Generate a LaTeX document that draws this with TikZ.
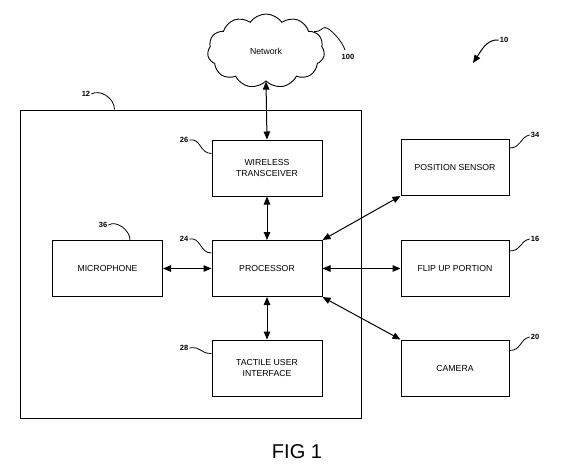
\documentclass[tikz,border=0pt]{standalone}
\usepackage{fontspec}
\setmainfont{Liberation Sans}
\usetikzlibrary{shapes.symbols,arrows.meta,calc}
\tikzset{
  blk/.style = {rectangle, draw=black, line width=1pt, align=center, inner sep=2pt,
    font=\fontsize{8.7}{10.5}\selectfont},
  box/.style = {blk, minimum width=110pt, minimum height=56pt},
  refno/.style = {inner sep=1pt, font=\fontsize{7.5}{9}\selectfont\bfseries},
  lead/.style = {line width=0.8pt},
  link/.style = {line width=1pt, {Triangle[length=8pt,width=6.5pt]}-{Triangle[length=8pt,width=6.5pt]}},
}

\begin{document}
\begin{tikzpicture}[x=1pt,y=-1pt]
\useasboundingbox (0,0) rectangle (562,472);
%device housing
\node [blk, minimum width=341pt, minimum height=308pt] (dev) at (190.5,264) {};
\node [cloud, draw, line width=0.9pt, cloud puffs=11, cloud puff arc=110, aspect=1.6,
  minimum width=117pt, minimum height=74pt, inner sep=0pt,
  font=\fontsize{8.7}{10}\selectfont] (net) at (266,51) {Network};
\node [box] (wt) at (267,168) {WIRELESS\\TRANSCEIVER};
\node [box] (proc) at (267,268.5) {PROCESSOR};
\node [box] (mic) at (107.5,268.5) {MICROPHONE};
\node [box] (tui) at (267,368) {TACTILE USER\\INTERFACE};
\node [box, minimum width=108pt] (pos) at (455,167.5) {POSITION SENSOR};
\node [box, minimum width=108pt] (flip) at (455,268.5) {FLIP UP PORTION};
\node [box, minimum width=108pt] (cam) at (455,368) {CAMERA};

\draw [link] (net.south) -- (wt.north);
\draw [link] (wt.south) -- (proc.north);
\draw [link] (proc.south) -- (tui.north);
\draw [link] (mic.east) -- (proc.west);
\draw [link] (proc.east) -- (flip.west);
\draw [link] (proc.north east) -- (pos.south west);
\draw [link] (proc.south east) -- (cam.north west);

%reference numerals
\node [refno] (l10) at (504,40) {10};
\coordinate (p10) at (473,63);
\draw [line width=1pt, -{Triangle[length=8pt,width=6.5pt]}] (l10.west) .. controls +(-12,-1) and +(8,-12) .. (p10);
\node [refno] (l100) at (348,57) {100};
\draw [lead] (net.22) .. controls +(8,0) and +(-4,0) .. ($(net.22)+(11,-4)$)
  .. controls +(5,0) and +(-2,-8) .. ($(l100.north)+(-3,-3)$);
\node [refno] (l12) at (86,94) {12};
\draw [lead] (l12.east) .. controls +(8,-5) and +(0,-12) .. ($(dev.north west)+(95,0)$);
\node [refno] (l36) at (103,225) {36};
\draw [lead] (l36.east) .. controls +(8,-5) and +(0,-10) .. ($(mic.north west)+(78,0)$);
\node [refno] (l26) at (184,140) {26};
\draw [lead] (l26.east) .. controls +(12,-2) and +(-12,0) .. ($(wt.north west)+(0,14)$);
\node [refno] (l24) at (184,239) {24};
\draw [lead] (l24.east) .. controls +(12,-2) and +(-12,0) .. ($(proc.north west)+(0,13)$);
\node [refno] (l28) at (184,348) {28};
\draw [lead] (l28.east) .. controls +(12,-2) and +(-12,0) .. ($(tui.north west)+(0,14)$);
\node [refno] (l34) at (535,135) {34};
\draw [lead] ($(pos.north east)+(0,9)$) .. controls +(12,0) and +(-10,2) .. (l34.west);
\node [refno] (l16) at (535,239) {16};
\draw [lead] ($(flip.north east)+(0,11)$) .. controls +(12,0) and +(-10,2) .. (l16.west);
\node [refno] (l20) at (535,337) {20};
\draw [lead] ($(cam.north east)+(0,11)$) .. controls +(12,0) and +(-10,2) .. (l20.west);

\node [font=\fontsize{20}{24}\selectfont] (fig) at (297,452) {FIG 1};
\end{tikzpicture}
\end{document}
